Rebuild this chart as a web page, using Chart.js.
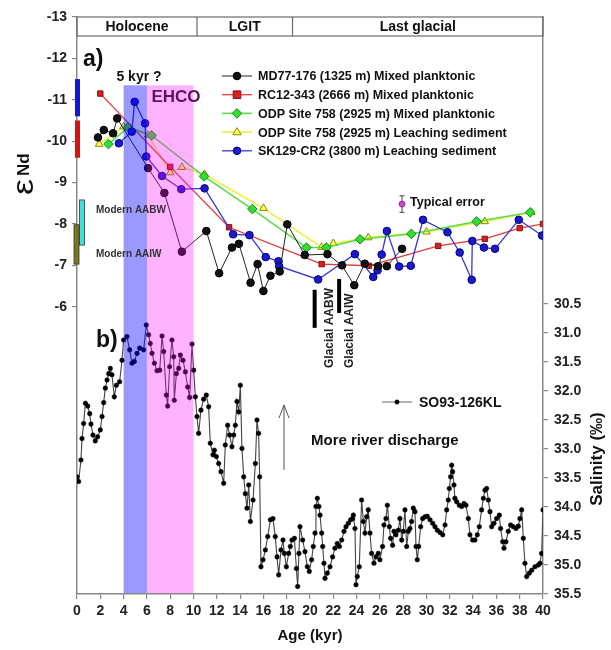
<!DOCTYPE html>
<html>
<head>
<meta charset="utf-8">
<script src="https://cdn.jsdelivr.net/npm/chart.js@4.4.0/dist/chart.umd.min.js"></script>
<style>
  body { margin: 0; background: #fff; }
  #wrap { width: 611px; height: 650px; }
</style>
</head>
<body>
<div id="wrap"><canvas id="myChart" width="611" height="650"></canvas></div>
<script>
// eNd records (age in kyr)
const mdAge = [1.8, 2.3, 3.1, 3.45, 6.1, 7.5, 9.0, 11.1, 12.2, 13.3, 13.9, 14.9, 15.5, 16.0, 16.6, 17.4, 18.05, 19.55, 21.5, 22.75, 23.8, 24.7, 25.85, 26.6, 27.9];
const mdNd = [-10.09, -10.27, -10.19, -10.55, -9.35, -8.75, -7.33, -7.83, -6.81, -7.43, -7.52, -6.58, -7.03, -6.38, -6.75, -6.85, -7.99, -7.25, -7.27, -7.0, -6.52, -7.04, -6.98, -6.98, -7.4];

const rcAge = [2.0, 8.0, 13.05, 21.0, 25.05, 31.0, 35.0, 38.0, 40.0];
const rcNd = [-11.15, -9.38, -7.92, -7.03, -6.99, -7.47, -7.64, -7.9, -8.0];

const odpMpAge = [2.7, 4.4, 6.4, 10.9, 15.05, 19.7, 21.4, 24.3, 28.7, 34.3, 38.9];
const odpMpNd = [-9.93, -10.34, -10.14, -9.15, -8.36, -7.43, -7.43, -7.63, -7.76, -8.06, -8.28];

const odpLsAge = [1.9, 4.0, 6.1, 8.0, 9.0, 10.95, 16.0, 21.0, 22.0, 25.0, 30.0, 35.0, 39.0];
const odpLsNd = [-9.93, -10.35, -10.15, -9.24, -9.37, -9.2, -8.38, -7.44, -7.53, -7.67, -7.81, -8.06, -8.28];

const skAge = [3.6, 4.7, 4.95, 5.85, 5.95, 7.3, 8.95, 10.95, 13.4, 14.8, 16.2, 17.3, 17.35, 20.7, 23.85, 25.43, 25.8, 26.15, 26.6, 27.65, 28.65, 29.7, 31.8, 32.85, 33.88, 33.93, 34.93, 35.88, 37.92, 39.92];
const skNd = [-9.95, -10.23, -10.95, -10.43, -9.63, -9.16, -8.84, -8.86, -7.75, -7.73, -7.2, -7.1, -6.98, -6.66, -7.27, -6.72, -6.88, -7.26, -7.83, -6.97, -6.99, -8.1, -7.8, -7.31, -6.65, -7.59, -7.43, -7.4, -8.1, -7.72];

// SO93-126KL salinity
const salAge = [0, 0.14, 0.34, 0.43, 0.57, 0.72, 0.92, 1.09, 1.2, 1.37,
  1.57, 1.77, 2.0, 2.15, 2.29, 2.43, 2.58, 2.72, 2.86, 3.0,
  3.2, 3.38, 3.66, 3.86, 4.0, 4.29, 4.52, 4.72, 4.92, 5.15,
  5.38, 5.72, 5.95, 6.15, 6.29, 6.44, 6.64, 6.87, 7.1, 7.3,
  7.44, 7.67, 7.78, 7.95, 8.15, 8.3, 8.35, 8.53, 8.73, 8.87,
  9.1, 9.3, 9.5, 9.67, 9.87, 10.01, 10.16, 10.3, 10.44, 10.64,
  10.87, 11.1, 11.3, 11.44, 11.67, 11.79, 11.96, 12.16, 12.36, 12.59,
  12.73, 12.93, 13.1, 13.3, 13.45, 13.59, 13.73, 13.88, 14.02, 14.16,
  14.31, 14.45, 14.59, 14.74, 14.88, 15.11, 15.31, 15.45, 15.59, 15.68,
  15.79, 15.97, 16.17, 16.37, 16.6, 16.82, 17.02, 17.17, 17.31, 17.51,
  17.68, 17.8, 17.97, 18.17, 18.31, 18.45, 18.66, 18.83, 18.94, 19.05,
  19.14, 19.37, 19.57, 19.77, 19.94, 20.14, 20.28, 20.43, 20.51, 20.63,
  20.77, 20.86, 21.0, 21.09, 21.2, 21.29, 21.49, 21.72, 21.94, 22.14,
  22.34, 22.52, 22.72, 22.92, 23.09, 23.29, 23.49, 23.66, 23.72, 23.86,
  23.95, 24.06, 24.23, 24.43, 24.58, 24.72, 24.86, 25.0, 25.15, 25.29,
  25.49, 25.66, 25.86, 26.0, 26.23, 26.35, 26.52, 26.64, 26.81, 26.92,
  27.09, 27.21, 27.38, 27.58, 27.72, 27.87, 28.01, 28.15, 28.3, 28.44,
  28.58, 28.72, 28.87, 29.01, 29.1, 29.21, 29.33, 29.5, 29.67, 29.87,
  30.07, 30.3, 30.53, 30.73, 30.93, 31.16, 31.39, 31.59, 31.73, 31.87,
  31.96, 32.07, 32.16, 32.24, 32.36, 32.44, 32.59, 32.82, 33.02, 33.22,
  33.39, 33.59, 33.73, 33.96, 34.16, 34.36, 34.53, 34.73, 34.88, 35.02,
  35.16, 35.31, 35.45, 35.59, 35.79, 36.02, 36.25, 36.36, 36.54, 36.65,
  36.82, 37.02, 37.22, 37.45, 37.68, 37.88, 38.02, 38.17, 38.31, 38.45,
  38.6, 38.83, 39.03, 39.31, 39.6, 39.74, 39.88, 40.0];
const salVal = [33.48, 33.56, 33.19, 32.82, 32.56, 32.21, 32.26, 32.39, 32.57, 32.76,
  32.86, 32.79, 32.67, 32.44, 32.2, 31.95, 31.81, 31.7, 31.61, 31.72,
  32.1, 31.9, 31.84, 31.47, 31.12, 31.06, 31.29, 31.52, 31.49, 31.35,
  31.26, 31.29, 30.86, 31.03, 31.18, 31.35, 31.52, 31.65, 31.64, 31.05,
  31.32, 32.07, 32.26, 31.58, 31.12, 31.41, 32.16, 31.7, 31.61, 31.38,
  31.47, 31.67, 31.93, 32.11, 31.19, 31.64, 32.1, 32.44, 32.73, 32.33,
  32.14, 32.07, 32.27, 32.9, 33.1, 33.02, 33.13, 33.25, 33.39, 33.59,
  32.93, 32.59, 32.76, 32.96, 32.76, 32.59, 32.18, 32.36, 31.9, 32.99,
  33.48, 33.77, 34.02, 33.62, 34.25, 33.88, 33.25, 32.5, 32.73, 33.48,
  35.03, 34.91, 34.74, 34.51, 34.22, 34.2, 34.51, 34.86, 35.17, 34.74,
  34.57, 34.8, 35.03, 34.8, 34.68, 34.57, 34.54, 35.06, 35.37, 34.8,
  34.34, 34.57, 34.77, 35.03, 35.11, 34.91, 34.68, 34.45, 33.99, 33.85,
  33.99, 34.14, 34.45, 34.68, 34.97, 35.23, 35.14, 35.03, 34.86, 34.71,
  34.63, 34.68, 34.57, 34.42, 34.34, 34.28, 34.22, 34.2, 34.14, 34.37,
  35.34, 35.2, 35.03, 33.88, 34.25, 34.45, 34.17, 34.05, 34.45, 34.8,
  34.97, 34.86, 34.8, 34.91, 34.68, 34.31, 34.2, 33.97, 34.34, 34.54,
  34.66, 34.42, 34.48, 34.4, 34.2, 34.57, 34.42, 34.05, 34.68, 34.42,
  34.37, 34.25, 34.02, 34.08, 34.68, 34.91, 34.68, 34.34, 34.2, 34.17,
  34.16, 34.22, 34.28, 34.34, 34.4, 34.44, 34.48, 34.31, 34.05, 33.88,
  33.68, 33.48, 33.28, 33.39, 33.62, 33.85, 33.91, 33.97, 33.99, 33.94,
  33.97, 34.2, 34.48, 34.57, 34.57, 34.48, 34.34, 34.05, 33.85, 33.71,
  33.68, 33.88, 34.08, 34.34, 34.28, 34.2, 34.14, 34.37, 34.6, 34.71,
  34.6, 34.42, 34.31, 34.34, 34.37, 34.33, 34.2, 34.05, 34.54, 34.97,
  35.2, 35.14, 35.09, 35.03, 35.0, 34.97, 34.8, 34.05];

// periods in the header strip and shaded intervals
const periodNames = ['Holocene', 'LGIT', 'Last glacial'];
const periodEdges = [0, 10.3, 18.5, 40];
const bands = [[4, 6], [6, 10]];
const bandTop = -11.35;

// modern / glacial eNd ranges
const modernLo = [-11.5, -10.5, -8.58, -7.98];
const modernHi = [-10.6, -9.6, -7.49, -7.03];
const glacialAge = [20.4, 22.5];
const glacialLo = [-6.41, -6.67];
const glacialHi = [-5.49, -5.85];
const errAge = 27.9, errNd = -8.48, errHalf = 0.2;

const FONT = '"Liberation Sans", Arial, sans-serif';

const series = [
  { label: 'MD77-176 (1325 m) Mixed planktonic', age: mdAge, nd: mdNd, line: '#222', lw: 1, fill: '#111', edge: '#000', style: 'circle', r: 3.8 },
  { label: 'RC12-343 (2666 m) Mixed planktonic', age: rcAge, nd: rcNd, line: '#e23a3a', lw: 1.3, fill: '#d82020', edge: '#8a1010', style: 'rect', r: 3.8 },
  { label: 'ODP Site 758 (2925 m) Mixed planktonic', age: odpMpAge, nd: odpMpNd, line: '#55dd44', lw: 1.5, fill: '#33dd33', edge: '#118811', style: 'rectRot', r: 4.8 },
  { label: 'ODP Site 758 (2925 m) Leaching sediment', age: odpLsAge, nd: odpLsNd, line: '#f0f050', lw: 1.8, fill: '#ffff55', edge: '#888800', style: 'triangle', r: 4.4 },
  { label: 'SK129-CR2 (3800 m) Leaching sediment', age: skAge, nd: skNd, line: '#3838d0', lw: 1.3, fill: '#1a1acc', edge: '#000080', style: 'circle', r: 3.8 }
];
const drawOrder = [0, 4, 1, 2, 3];

function marker(ctx, style, r, x, y) {
  ctx.beginPath();
  if (style === 'circle') {
    ctx.arc(x, y, r, 0, Math.PI * 2);
  } else if (style === 'rect') {
    ctx.rect(x - r, y - r, 2 * r, 2 * r);
  } else if (style === 'rectRot') {
    ctx.moveTo(x, y - r); ctx.lineTo(x + r, y); ctx.lineTo(x, y + r); ctx.lineTo(x - r, y); ctx.closePath();
  } else {
    ctx.moveTo(x, y - r); ctx.lineTo(x + r * 0.95, y + r * 0.6); ctx.lineTo(x - r * 0.95, y + r * 0.6); ctx.closePath();
  }
  ctx.fill(); ctx.stroke();
}

const datasets = drawOrder.map(i => {
  const s = series[i];
  return {
    label: s.label,
    data: s.age.map((a, k) => ({ x: a, y: s.nd[k] })),
    yAxisID: 'y',
    borderColor: s.line, borderWidth: s.lw,
    pointStyle: s.style, pointRadius: s.r,
    pointBackgroundColor: s.fill, pointBorderColor: s.edge, pointBorderWidth: 1,
    tension: 0
  };
});
datasets.push({
  label: 'SO93-126KL',
  data: salAge.map((a, k) => ({ x: a, y: salVal[k] })),
  yAxisID: 'y2',
  borderColor: '#444', borderWidth: 1.1,
  pointStyle: 'circle', pointRadius: 2.3,
  pointBackgroundColor: '#000', pointBorderColor: '#000', pointBorderWidth: 0.5,
  tension: 0
});

const overlay = {
  id: 'overlay',
  afterDatasetsDraw(chart) {
    const { ctx, chartArea: a, scales: { x, y } } = chart;
    ctx.save();
    const top = y.getPixelForValue(bandTop);
    const cols = ['rgba(0,0,255,0.4)', 'rgba(255,0,255,0.3)'];
    bands.forEach((b, i) => {
      const x0 = x.getPixelForValue(b[0]), x1 = x.getPixelForValue(b[1]);
      ctx.fillStyle = cols[i];
      ctx.fillRect(x0, top, x1 - x0, a.bottom - 1 - top);
    });
    ctx.restore();
  },
  afterDraw(chart) {
    const { ctx, chartArea: a, scales: { x, y } } = chart;
    ctx.save();

    // header strip
    ctx.strokeStyle = '#6a6a6a'; ctx.lineWidth = 1.2;
    ctx.strokeRect(a.left, a.top, a.right - a.left, 19);
    ctx.beginPath();
    periodEdges.slice(1, -1).forEach(v => {
      const px = x.getPixelForValue(v);
      ctx.moveTo(px, a.top); ctx.lineTo(px, a.top + 19);
    });
    ctx.stroke();
    ctx.fillStyle = '#111'; ctx.font = 'bold 14px ' + FONT;
    ctx.textAlign = 'center'; ctx.textBaseline = 'middle';
    periodNames.forEach((n, i) => {
      const cx = (x.getPixelForValue(periodEdges[i]) + x.getPixelForValue(periodEdges[i + 1])) / 2;
      ctx.fillText(n, cx, a.top + 10);
    });

    // modern ranges on the left axis
    const mCols = ['#1515d0', '#d01515', '#40e0e0', '#7a7a1a'];
    const mX = [-2, -2, 2.5, -3];
    mCols.forEach((c, i) => {
      const y0 = y.getPixelForValue(modernLo[i]), y1 = y.getPixelForValue(modernHi[i]);
      ctx.fillStyle = c;
      ctx.fillRect(a.left + mX[i], y0, 5, y1 - y0);
      if (i > 1) { ctx.strokeStyle = '#333'; ctx.lineWidth = 0.8; ctx.strokeRect(a.left + mX[i], y0, 5, y1 - y0); }
    });
    ctx.fillStyle = '#333'; ctx.font = 'bold 10px ' + FONT;
    ctx.textAlign = 'left';
    ctx.fillText('Modern AABW', 96, 210);
    ctx.fillText('Modern AAIW', 96, 254);

    // glacial ranges
    ctx.fillStyle = '#000';
    glacialAge.forEach((g, i) => {
      const px = x.getPixelForValue(g);
      const y0 = y.getPixelForValue(glacialLo[i]), y1 = y.getPixelForValue(glacialHi[i]);
      ctx.fillRect(px - 2, y0, 4, y1 - y0);
    });
    ctx.font = 'bold 12px ' + FONT; ctx.fillStyle = '#222';
    [['Glacial AABW', 330], ['Glacial AAIW', 350]].forEach(([t, px]) => {
      ctx.save(); ctx.translate(px, 368); ctx.rotate(-Math.PI / 2);
      ctx.textAlign = 'left'; ctx.textBaseline = 'middle';
      ctx.fillText(t, 0, 0); ctx.restore();
    });

    // typical error
    const ex = x.getPixelForValue(errAge), ey = y.getPixelForValue(errNd);
    const e0 = y.getPixelForValue(errNd - errHalf), e1 = y.getPixelForValue(errNd + errHalf);
    ctx.strokeStyle = '#444'; ctx.lineWidth = 1;
    ctx.beginPath();
    ctx.moveTo(ex, e0); ctx.lineTo(ex, e1);
    ctx.moveTo(ex - 2.5, e0); ctx.lineTo(ex + 2.5, e0);
    ctx.moveTo(ex - 2.5, e1); ctx.lineTo(ex + 2.5, e1);
    ctx.stroke();
    ctx.fillStyle = '#cc44cc'; ctx.strokeStyle = '#883388';
    marker(ctx, 'circle', 3, ex, ey);
    ctx.fillStyle = '#111'; ctx.font = 'bold 12.5px ' + FONT;
    ctx.textAlign = 'left'; ctx.textBaseline = 'middle';
    ctx.fillText('Typical error', ex + 8, ey - 2);

    // legend a)
    series.forEach((s, i) => {
      const ly = 76 + i * 18.7;
      ctx.strokeStyle = s.line; ctx.lineWidth = s.lw;
      ctx.beginPath(); ctx.moveTo(222, ly); ctx.lineTo(252, ly); ctx.stroke();
      ctx.fillStyle = s.fill; ctx.strokeStyle = s.edge; ctx.lineWidth = 1;
      marker(ctx, s.style, s.r, 237, ly);
      ctx.fillStyle = '#111'; ctx.font = 'bold 12.5px ' + FONT;
      ctx.textAlign = 'left'; ctx.textBaseline = 'middle';
      ctx.fillText(s.label, 258, ly + 1);
    });

    // legend b)
    ctx.strokeStyle = '#666'; ctx.lineWidth = 1;
    ctx.beginPath(); ctx.moveTo(382, 402); ctx.lineTo(412, 402); ctx.stroke();
    ctx.fillStyle = '#000'; ctx.strokeStyle = '#000';
    marker(ctx, 'circle', 2, 397, 402);
    ctx.fillStyle = '#111'; ctx.font = 'bold 14px ' + FONT;
    ctx.fillText('SO93-126KL', 419, 403);

    // arrow and discharge note
    ctx.strokeStyle = '#555'; ctx.lineWidth = 1;
    ctx.beginPath();
    ctx.moveTo(284, 470); ctx.lineTo(284, 405);
    ctx.moveTo(279, 418); ctx.lineTo(284, 405); ctx.lineTo(289, 418);
    ctx.stroke();
    ctx.fillStyle = '#111'; ctx.font = 'bold 15px ' + FONT;
    ctx.fillText('More river discharge', 311, 441);

    // panel labels and interval notes
    ctx.font = 'bold 23px ' + FONT;
    ctx.fillText('a)', 83, 60);
    ctx.fillText('b)', 96, 341);
    ctx.font = 'bold 14px ' + FONT; ctx.textAlign = 'center';
    ctx.fillText('5 kyr ?', 139, 77);
    ctx.fillStyle = '#5c1060'; ctx.font = 'bold 17px ' + FONT;
    ctx.fillText('EHCO', 176, 97);

    // axis titles
    ctx.fillStyle = '#111';
    ctx.textAlign = 'left'; ctx.textBaseline = 'alphabetic';
    ctx.save(); ctx.translate(33, 195); ctx.rotate(-Math.PI / 2); ctx.scale(1.2, 1);
    ctx.font = '30px ' + FONT; ctx.fillText('ε', 0, 0); ctx.restore();
    ctx.save(); ctx.translate(29, 176); ctx.rotate(-Math.PI / 2);
    ctx.font = 'bold 17px ' + FONT; ctx.fillText('Nd', 0, 0); ctx.restore();

    ctx.save(); ctx.translate(597, 459); ctx.rotate(-Math.PI / 2);
    ctx.textAlign = 'center'; ctx.textBaseline = 'middle';
    ctx.font = 'bold 17px ' + FONT; ctx.fillText('Salinity (‰)', 0, 0); ctx.restore();

    ctx.textAlign = 'center'; ctx.textBaseline = 'middle';
    ctx.font = 'bold 15px ' + FONT;
    ctx.fillText('Age (kyr)', (a.left + a.right) / 2, 636);
    ctx.restore();
  }
};

const axisGrid = { drawOnChartArea: false, drawTicks: true, tickLength: 5, color: '#888', lineWidth: 1.2 };
const axisBorder = { display: true, color: '#888', width: 1.5 };
const tickFont = { family: FONT, size: 14, weight: 'bold' };

const ctx = document.getElementById('myChart').getContext('2d');
const myChart = new Chart(ctx, {
  type: 'line',
  data: { datasets: datasets },
  options: {
    responsive: false,
    animation: false,
    layout: { padding: { top: 17, left: 0, right: 0, bottom: 0 } },
    plugins: { legend: { display: false }, tooltip: { enabled: false } },
    scales: {
      x: {
        type: 'linear', min: 0, max: 40,
        ticks: { stepSize: 2, font: tickFont, color: '#222', padding: 4, maxRotation: 0 },
        grid: axisGrid, border: axisBorder,
        afterFit: s => { s.height = 56; }
      },
      y: {
        position: 'left', reverse: true, min: -13, max: 0.94,
        ticks: { stepSize: 1, font: tickFont, color: '#222', padding: 5 },
        grid: axisGrid, border: axisBorder,
        afterBuildTicks: s => { s.ticks = s.ticks.filter(t => t.value <= -6 && Number.isInteger(t.value)); },
        afterFit: s => { s.width = 77; }
      },
      y2: {
        position: 'right', reverse: true, min: 25.55, max: 35.5,
        ticks: { stepSize: 0.5, font: tickFont, color: '#222', padding: 6, callback: v => Number(v).toFixed(1) },
        grid: axisGrid, border: axisBorder,
        afterBuildTicks: s => {
          s.ticks = s.ticks.filter(t => {
            const v = Math.round(t.value * 10) / 10;
            return v >= 30.5 && Math.abs(v * 2 - Math.round(v * 2)) < 1e-6;
          });
        },
        afterFit: s => { s.width = 68; }
      }
    }
  },
  plugins: [overlay]
});
</script>
</body>
</html>
